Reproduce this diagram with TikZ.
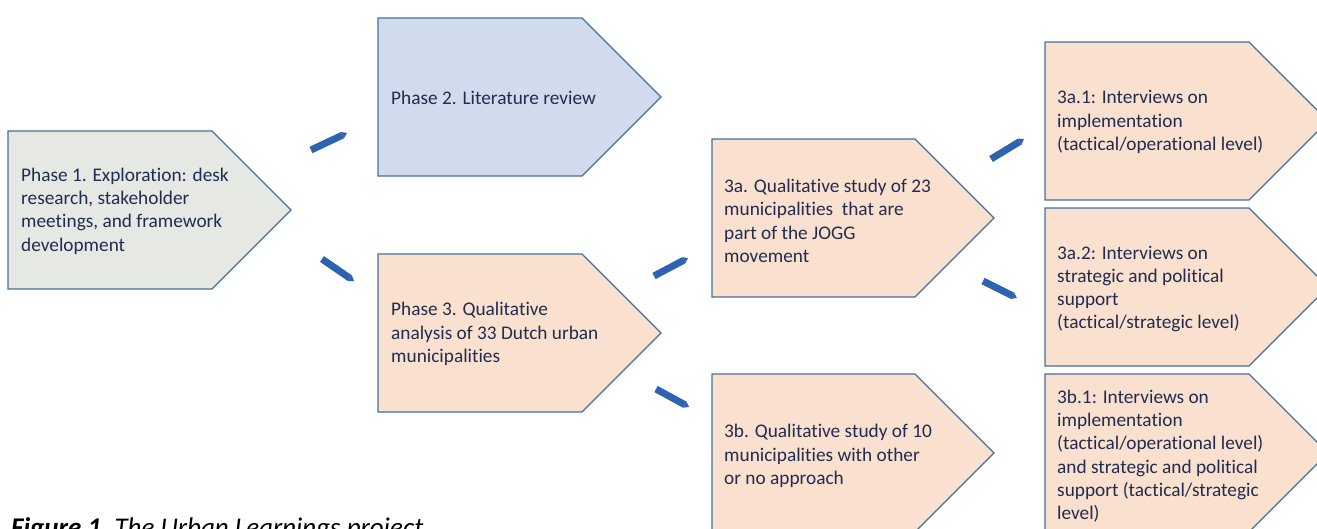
\documentclass[tikz,border=0pt]{standalone}
\usepackage{fontspec}
\setmainfont{Carlito}[Ligatures=NoCommon]
\usetikzlibrary{arrows.meta, calc}

\definecolor{boxedge}{RGB}{65,113,156}
\definecolor{greyfill}{RGB}{230,232,228}
\definecolor{bluefill}{RGB}{208,220,237}
\definecolor{peachfill}{RGB}{250,224,206}
\definecolor{textnavy}{RGB}{34,44,80}
\definecolor{arrowblue}{RGB}{46,100,175}

\begin{document}
\begin{tikzpicture}[x=1pt, y=-1pt,
		phase/.style={draw=boxedge, line width=1.3pt, line join=miter},
		phasetext/.style={anchor=west, inner sep=0pt, align=left, text=textnavy,
			font=\fontsize{19.3}{23.3}\selectfont},
		blkarrow/.style={line width=7pt, arrowblue,
			-{Triangle[length=5pt, width=7pt, line width=0pt]}}]
	\useasboundingbox (0,0) rectangle (1317,528);
	
	% Fasen
	\draw[phase, fill=greyfill] (8,131) -- ++(204,0) -- ++(79,79) -- ++(-79,79) -- ++(-204,0) -- cycle;
	\draw[phase, fill=bluefill] (378,18) -- ++(204,0) -- ++(79,79) -- ++(-79,79) -- ++(-204,0) -- cycle;
	\draw[phase, fill=peachfill] (378,254) -- ++(204,0) -- ++(79,79) -- ++(-79,79) -- ++(-204,0) -- cycle;
	\node[phasetext] (phaseone) at (21,211) {Phase 1. Exploration: desk\\research, stakeholder\\meetings, and framework\\development};
	\node[phasetext] (phasetwo) at (391,98) {Phase 2. Literature review};
	\node[phasetext] (phasethree) at (391,334) {Phase 3. Qualitative\\analysis of 33 Dutch urban\\municipalities};
	
	% Deelstudies
	\draw[phase, fill=peachfill] (712,139) -- ++(203,0) -- ++(79,79) -- ++(-79,79) -- ++(-203,0) -- cycle;
	\draw[phase, fill=peachfill] (712,374) -- ++(203,0) -- ++(79,79) -- ++(-79,79) -- ++(-203,0) -- cycle;
	\node[phasetext] (studya) at (724,221) {3a. Qualitative study of 23\\municipalities\ \ that are\\part of the JOGG\\movement};
	\node[phasetext] (studyb) at (724,456) {3b. Qualitative study of 10\\municipalities with other\\or no approach};
	
	% Interviews
	\foreach \top in {42, 208, 374}{
		\draw[phase, fill=peachfill] (1045,\top) -- ++(204,0) -- ++(79,79) -- ++(-79,79) -- ++(-204,0) -- cycle;}
	\node[phasetext] (itvaone) at (1057,122) {3a.1: Interviews on\\implementation\\(tactical/operational level)};
	\node[phasetext] (itvatwo) at (1057,289) {3a.2: Interviews on\\strategic and political\\support\\(tactical/strategic level)};
	\node[phasetext] (itvbone) at (1057,456) {3b.1: Interviews on\\implementation\\(tactical/operational level)\\and strategic and political\\support (tactical/strategic\\level)};
	
	% Pijltjes
	\coordinate (aones) at (311,150);   \coordinate (aonee) at (347,133);
	\coordinate (atwos) at (322,259);   \coordinate (atwoe) at (354,281);
	\coordinate (athrs) at (654,276);   \coordinate (athre) at (688,258);
	\coordinate (afours) at (656,389);  \coordinate (afoure) at (689,407);
	\coordinate (afives) at (991,159);  \coordinate (afivee) at (1024,139);
	\coordinate (asixs) at (983,281);   \coordinate (asixe) at (1017,298);
	\draw[blkarrow] (aones) -- (aonee);
	\draw[blkarrow] (atwos) -- (atwoe);
	\draw[blkarrow] (athrs) -- (athre);
	\draw[blkarrow] (afours) -- (afoure);
	\draw[blkarrow] (afives) -- (afivee);
	\draw[blkarrow] (asixs) -- (asixe);
	
	\node[anchor=base west, inner sep=0pt, font=\fontsize{27}{31}\selectfont\itshape] (caption) at (11,536) {\bfseries Figure 1.\ \mdseries The Urban Learnings project};
\end{tikzpicture}
\end{document}
